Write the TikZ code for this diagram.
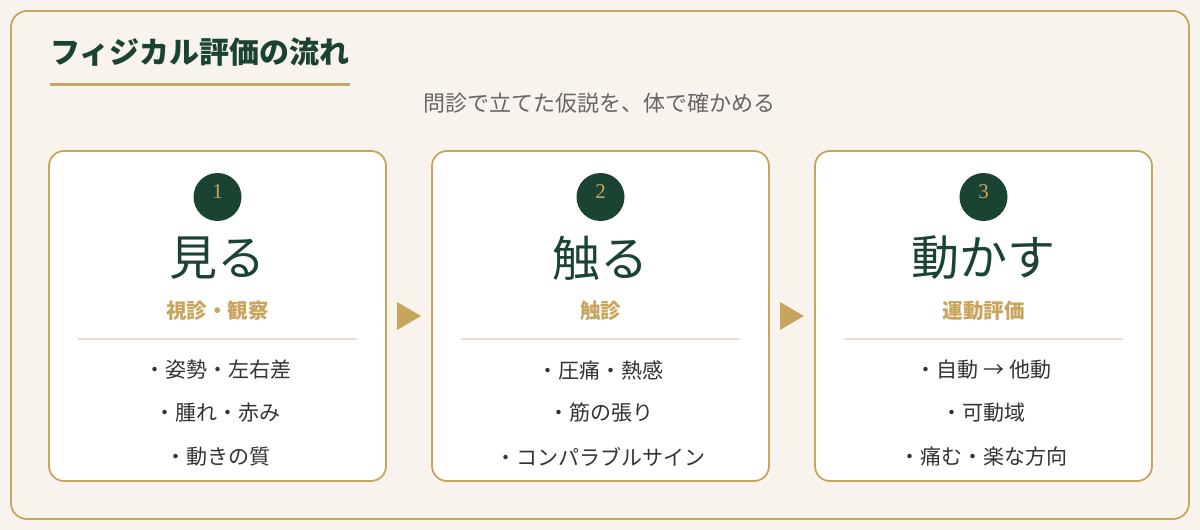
\documentclass[tikz,border=0pt]{standalone}
\usepackage{fontspec}
\newfontfamily\jp{Noto Sans CJK JP}
\newfontfamily\numfont{Liberation Serif}
\definecolor{bgc}{HTML}{F8F3EC}
\definecolor{gold}{HTML}{C9A45C}
\definecolor{dgreen}{HTML}{1B4332}
\definecolor{sepc}{HTML}{E8DFD2}
\definecolor{txtc}{HTML}{333333}
\definecolor{subc}{HTML}{666666}
\begin{document}
\begin{tikzpicture}[x=1pt,y=-1pt,
  card/.style={draw=gold,line width=1.8pt,fill=white,rounded corners=15pt},
  numc/.style={circle,fill=dgreen,minimum size=48pt,inner sep=0pt},
  numt/.style={text=gold,font=\numfont\fontsize{21}{21}\selectfont,inner sep=0pt},
  head/.style={text=dgreen,font=\jp\fontsize{48}{48}\selectfont,inner sep=0pt},
  subh/.style={text=gold,font=\jp\bfseries\fontsize{20.5}{20.5}\selectfont,inner sep=0pt},
  item/.style={text=txtc,font=\jp\fontsize{21}{21}\selectfont,inner sep=0pt},
  tri/.style={fill=gold,draw=none}]
\fill[bgc] (0,0) rectangle (1200,530);
\useasboundingbox (0,0) rectangle (1200,530);
\draw[gold,line width=1.8pt,rounded corners=16pt,fill=bgc] (11,11) rectangle (1189,519);
\node[anchor=west,text=dgreen,font=\jp\bfseries\fontsize{30}{30}\selectfont,inner sep=0pt] (title) at (50,52) {フィジカル評価の流れ};
\draw[gold,line width=3pt] (50,84) -- (350,84);
\node[text=subc,font=\jp\fontsize{22}{22}\selectfont,inner sep=0pt] (sub) at (599,103) {問診で立てた仮説を、体で確かめる};
% cards
\foreach \i/\x/\n/\h/\s/\a/\b/\c in {
  1/49/1/見る/視診・観察/・姿勢・左右差/・腫れ・赤み/・動きの質,
  2/432/2/触る/触診/・圧痛・熱感/・筋の張り/・コンパラブルサイン,
  3/815/3/動かす/運動評価/・自動 → 他動/・可動域/・痛む・楽な方向}{
  \path[card] (\x,151) rectangle ++(337,330);
  \node[numc] (n\i) at ({\x+168.5},197) {};
  \node[numt] (m\i) at ({\x+168.5},191.5) {\n};
  \node[head] (h\i) at ({\x+168.5},258) {\h};
  \node[subh] (s\i) at ({\x+168.5},311) {\s};
  \draw[sepc,line width=1.5pt] ({\x+29},339) -- ({\x+308},339);
  \node[item] (a\i) at ({\x+168.5},370) {\a};
  \node[item] (b\i) at ({\x+168.5},413) {\b};
  \node[item] (c\i) at ({\x+168.5},457) {\c};
}
\coordinate (t1) at (397,302);
\coordinate (t2) at (780,302);
\fill[tri] (t1) -- ++(24,14) -- ++(-24,14) -- cycle;
\fill[tri] (t2) -- ++(24,14) -- ++(-24,14) -- cycle;
\end{tikzpicture}
\end{document}
